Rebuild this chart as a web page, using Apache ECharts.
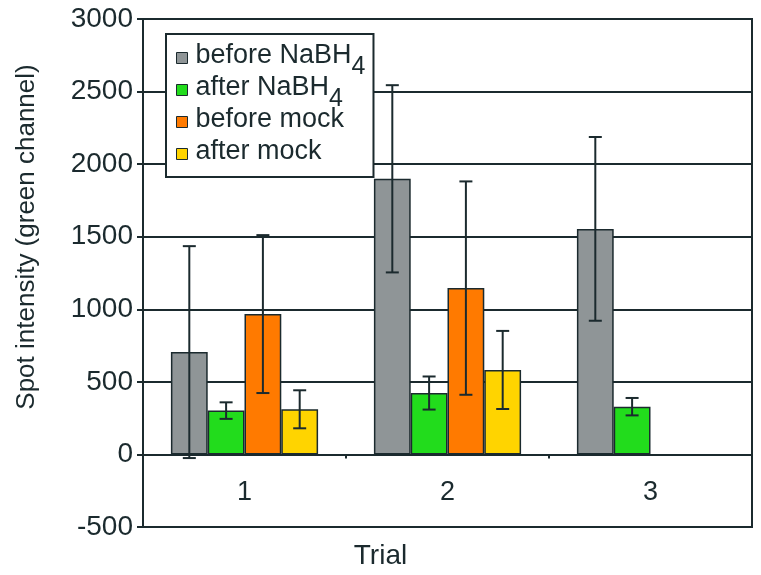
<!DOCTYPE html>
<html>
<head>
<meta charset="utf-8">
<script src="https://cdn.jsdelivr.net/npm/echarts@6/dist/echarts.min.js"></script>
<style>
html,body{margin:0;padding:0;background:#fff;}
#chart{width:761px;height:575px;}
</style>
</head>
<body>
<div id="chart"></div>
<script>
// ---- data ----
const categories = ['1', '2', '3'];
const seriesNames = ['before NaBH4', 'after NaBH4', 'before mock', 'after mock'];
const beforeNaBH4 = [705, 1899, 1554];
const afterNaBH4 = [302, 423, 329];
const beforeMock = [967, 1146, null];
const afterMock = [311, 582, null];
const beforeNaBH4Err = [730, 645, 633];
const afterNaBH4Err = [57, 114, 60];
const beforeMockErr = [544, 735, null];
const afterMockErr = [131, 269, null];
const yTicks = { min: -500, max: 3000, interval: 500 };

// ---- styles ----
const INK = '#1b2a2e';
const FONT = 'Liberation Sans';
const colors = ['#8f9597', '#22dc1c', '#ff7a00', '#ffd400'];
const CAT_GAP = 0.275;

const means = [beforeNaBH4, afterNaBH4, beforeMock, afterMock];
const errs = [beforeNaBH4Err, afterNaBH4Err, beforeMockErr, afterMockErr];

const chart = echarts.init(document.getElementById('chart'), null, { renderer: 'canvas' });

function errSeries(k) {
  const data = [];
  categories.forEach((c, i) => {
    if (means[k][i] != null) data.push([i, means[k][i] - errs[k][i], means[k][i] + errs[k][i]]);
  });
  return {
    type: 'custom',
    z: 5,
    silent: true,
    data: data,
    encode: { x: 0, y: [1, 2] },
    renderItem: function (params, api) {
      const i = api.value(0);
      const lo = api.coord([i, api.value(1)]);
      const hi = api.coord([i, api.value(2)]);
      const band = api.size([1, 0])[0];
      const groupW = band * (1 - CAT_GAP);
      const barW = groupW / 4;
      const x = lo[0] - groupW / 2 + barW * (k + 0.5);
      const cap = 6.5;
      const st = { stroke: INK, lineWidth: 2 };
      return {
        type: 'group',
        children: [
          { type: 'line', shape: { x1: x, y1: lo[1], x2: x, y2: hi[1] }, style: st },
          { type: 'line', shape: { x1: x - cap, y1: lo[1], x2: x + cap, y2: lo[1] }, style: st },
          { type: 'line', shape: { x1: x - cap, y1: hi[1], x2: x + cap, y2: hi[1] }, style: st }
        ]
      };
    }
  };
}

const barSeries = seriesNames.map((name, k) => ({
  name: name,
  type: 'bar',
  data: means[k],
  barGap: '0%',
  barCategoryGap: (CAT_GAP * 100) + '%',
  itemStyle: { color: colors[k], borderColor: INK, borderWidth: 1.5 },
  z: 3
}));

const option = {
  animation: false,
  backgroundColor: '#fff',
  textStyle: { fontFamily: FONT, color: INK },
  grid: {
    left: 143, right: 9, top: 19, bottom: 48,
    show: true, borderColor: INK, borderWidth: 2,
    containLabel: false, outerBoundsMode: 'none'
  },
  legend: {
    orient: 'vertical',
    left: 166, top: 34,
    padding: [8, 8, 1, 10],
    backgroundColor: '#fff',
    borderColor: INK, borderWidth: 2,
    itemWidth: 11, itemHeight: 17, itemGap: -6,
    icon: 'path://M0,0h11v11h-11zM0,17',
    itemStyle: { borderColor: INK, borderWidth: 1 },
    data: seriesNames,
    formatter: function (name) {
      if (name.endsWith('NaBH4')) return '{t|' + name.slice(0, -1) + '}{s|4}';
      return '{t|' + name + '}{s| }';
    },
    textStyle: {
      fontFamily: FONT, fontSize: 27, color: INK, padding: [0, 0, 0, 3],
      rich: {
        t: { fontFamily: FONT, fontSize: 27, color: INK, verticalAlign: 'top' },
        s: { fontFamily: FONT, fontSize: 25, padding: [13, 0, 0, 0], color: INK, verticalAlign: 'top' }
      }
    },
    z: 10
  },
  xAxis: {
    type: 'category',
    data: categories,
    axisLine: { onZero: true, lineStyle: { color: INK, width: 2 } },
    axisTick: { show: true, length: 4, lineStyle: { color: INK, width: 2 } },
    axisLabel: { fontFamily: FONT, fontSize: 27, color: INK, margin: -48 },
    splitLine: { show: false }
  },
  yAxis: {
    type: 'value',
    min: yTicks.min, max: yTicks.max, interval: yTicks.interval,
    axisLine: { show: true, lineStyle: { color: INK, width: 2 } },
    axisTick: { show: true, length: 6, lineStyle: { color: INK, width: 2 } },
    axisLabel: { fontFamily: FONT, fontSize: 28, color: INK, margin: 10, formatter: v => String(v) },
    splitLine: { show: true, lineStyle: { color: INK, width: 2 } }
  },
  graphic: [
    {
      type: 'text', left: 'center', x: 0, top: 542, z: 20,
      style: { text: 'Trial', font: '28px "Liberation Sans"', fill: INK }
    },
    {
      type: 'text', x: 27, y: 237, rotation: Math.PI / 2, z: 20,
      style: { text: 'Spot intensity (green channel)', font: '26px "Liberation Sans"', fill: INK, textAlign: 'center', textVerticalAlign: 'middle' }
    }
  ],
  series: barSeries.concat([0, 1, 2, 3].map(errSeries))
};
chart.setOption(option);
</script>
</body>
</html>
